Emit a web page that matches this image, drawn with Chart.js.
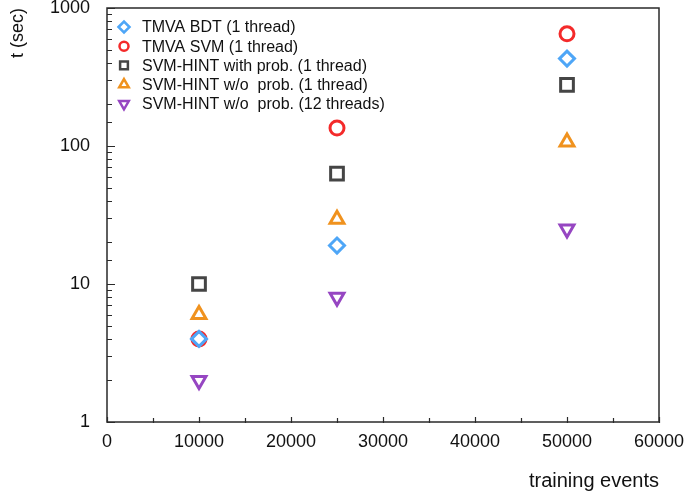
<!DOCTYPE html>
<html>
<head>
<meta charset="utf-8">
<script src="https://cdn.jsdelivr.net/npm/chart.js@4.4.1/dist/chart.umd.min.js"></script>
<style>
  html, body { margin: 0; padding: 0; background: #fff; }
  #wrap { width: 686px; height: 495px; }
</style>
</head>
<body>
<div id="wrap"><canvas id="timingChart"></canvas></div>
<script>
const trainingEvents = [10000, 25000, 50000];

const tmvaBdt = [4, 19, 430];
const tmvaSvm = [4, 135, 650];
const hintWithProb = [10, 63, 277];
const hintNoProb = [6, 29.5, 107];
const hintNoProb12 = [2, 8, 25];

const seriesNames = [
  "TMVA BDT (1 thread)",
  "TMVA SVM (1 thread)",
  "SVM-HINT with prob. (1 thread)",
  "SVM-HINT w/o  prob. (1 thread)",
  "SVM-HINT w/o  prob. (12 threads)"
];

const yTickLabels = [1, 10, 100, 1000];
const xTickLabels = [0, 10000, 20000, 30000, 40000, 50000, 60000];

const fontFamily = "'Liberation Sans', Arial, Helvetica, sans-serif";

function toPoints(values) {
  return values.map((v, i) => ({ x: trainingEvents[i], y: v }));
}

function makeSeries(label, values, color, style, radius, legendRadius, rotation) {
  return {
    label,
    data: toPoints(values),
    borderColor: color,
    backgroundColor: "rgba(0,0,0,0)",
    pointStyle: style,
    pointRadius: radius,
    pointHoverRadius: radius,
    pointBorderWidth: 3,
    pointRotation: rotation || 0,
    legendRadius,
    showLine: false
  };
}

const datasets = [
  makeSeries(seriesNames[0], tmvaBdt, "#4ea6f7", "rectRot", 7.5, 5.5),
  makeSeries(seriesNames[1], tmvaSvm, "#f42a2a", "circle", 7, 4.5),
  makeSeries(seriesNames[2], hintWithProb, "#454545", "rect", 9, 5.5),
  makeSeries(seriesNames[3], hintNoProb, "#f0921e", "triangle", 8, 5.5),
  makeSeries(seriesNames[4], hintNoProb12, "#9646c2", "triangle", 8, 5.5, 180)
];

// frame and inward tick marks
const framePlugin = {
  id: "frame",
  afterDraw(chart) {
    const ctx = chart.ctx;
    const area = chart.chartArea;
    const xs = chart.scales.x;
    const ys = chart.scales.y;
    ctx.save();
    ctx.strokeStyle = "#2a2a2a";
    ctx.lineWidth = 1.5;
    ctx.strokeRect(area.left, area.top, area.right - area.left, area.bottom - area.top);

    ctx.lineWidth = 1.2;
    ctx.beginPath();
    ys.ticks.forEach(t => {
      const py = Math.round(ys.getPixelForValue(t.value)) + 0.5;
      const len = yTickLabels.includes(t.value) ? 8 : 5;
      ctx.moveTo(area.left, py);
      ctx.lineTo(area.left + len, py);
    });
    xs.ticks.forEach(t => {
      const px = Math.round(xs.getPixelForValue(t.value)) + 0.5;
      const len = t.value % 10000 === 0 ? 5 : 4;
      ctx.moveTo(px, area.bottom + 1);
      ctx.lineTo(px, area.bottom - len);
    });
    ctx.stroke();
    ctx.restore();
  }
};

// legend inside the plot, top left
const legendPlugin = {
  id: "insideLegend",
  afterDatasetsDraw(chart) {
    const ctx = chart.ctx;
    const area = chart.chartArea;
    ctx.save();
    ctx.font = "16px " + fontFamily;
    ctx.textBaseline = "middle";
    ctx.textAlign = "left";
    chart.data.datasets.forEach((ds, i) => {
      const cy = area.top + 19 + i * 19.2;
      const cx = area.left + 17;
      ctx.strokeStyle = ds.borderColor;
      ctx.fillStyle = "rgba(0,0,0,0)";
      ctx.lineWidth = 2.5;
      Chart.helpers.drawPoint(ctx, {
        pointStyle: ds.pointStyle,
        rotation: ds.pointRotation,
        radius: ds.legendRadius,
        borderWidth: 2.5
      }, cx, cy);
      ctx.fillStyle = "#111";
      ctx.fillText(ds.label, cx + 18, cy + 1);
    });
    ctx.restore();
  }
};

const ctx = document.getElementById("timingChart");

new Chart(ctx, {
  type: "scatter",
  data: { datasets },
  options: {
    responsive: true,
    maintainAspectRatio: false,
    animation: false,
    layout: { autoPadding: false, padding: { left: 0, right: 27, top: 8, bottom: 0 } },
    plugins: {
      legend: { display: false },
      tooltip: { enabled: false }
    },
    scales: {
      x: {
        type: "linear",
        min: 0,
        max: 60000,
        border: { display: false },
        grid: { display: false, drawTicks: false },
        ticks: {
          stepSize: 5000,
          autoSkip: false,
          maxRotation: 0,
          padding: 9,
          color: "#111",
          font: { family: fontFamily, size: 18 },
          callback: v => xTickLabels.includes(v) ? String(v) : ""
        },
        title: {
          display: true,
          text: "training events",
          align: "end",
          color: "#111",
          font: { family: fontFamily, size: 20 },
          padding: { top: 0, bottom: 2 }
        },
        afterFit(scale) {
          scale.height = 73;
          scale.paddingLeft = 0;
          scale.paddingRight = 0;
        }
      },
      y: {
        type: "logarithmic",
        min: 1,
        max: 1000,
        border: { display: false },
        grid: { display: false, drawTicks: false },
        ticks: {
          autoSkip: false,
          padding: 17,
          color: "#111",
          font: { family: fontFamily, size: 18 },
          callback: v => yTickLabels.includes(v) ? String(v) : ""
        },
        title: {
          display: true,
          text: "t (sec)",
          align: "end",
          color: "#111",
          font: { family: fontFamily, size: 18 },
          padding: { top: 7, bottom: 0 }
        },
        afterFit(scale) {
          scale.width = 107;
          scale.paddingTop = 0;
          scale.paddingBottom = 0;
        }
      }
    }
  },
  plugins: [framePlugin, legendPlugin]
});
</script>
</body>
</html>
